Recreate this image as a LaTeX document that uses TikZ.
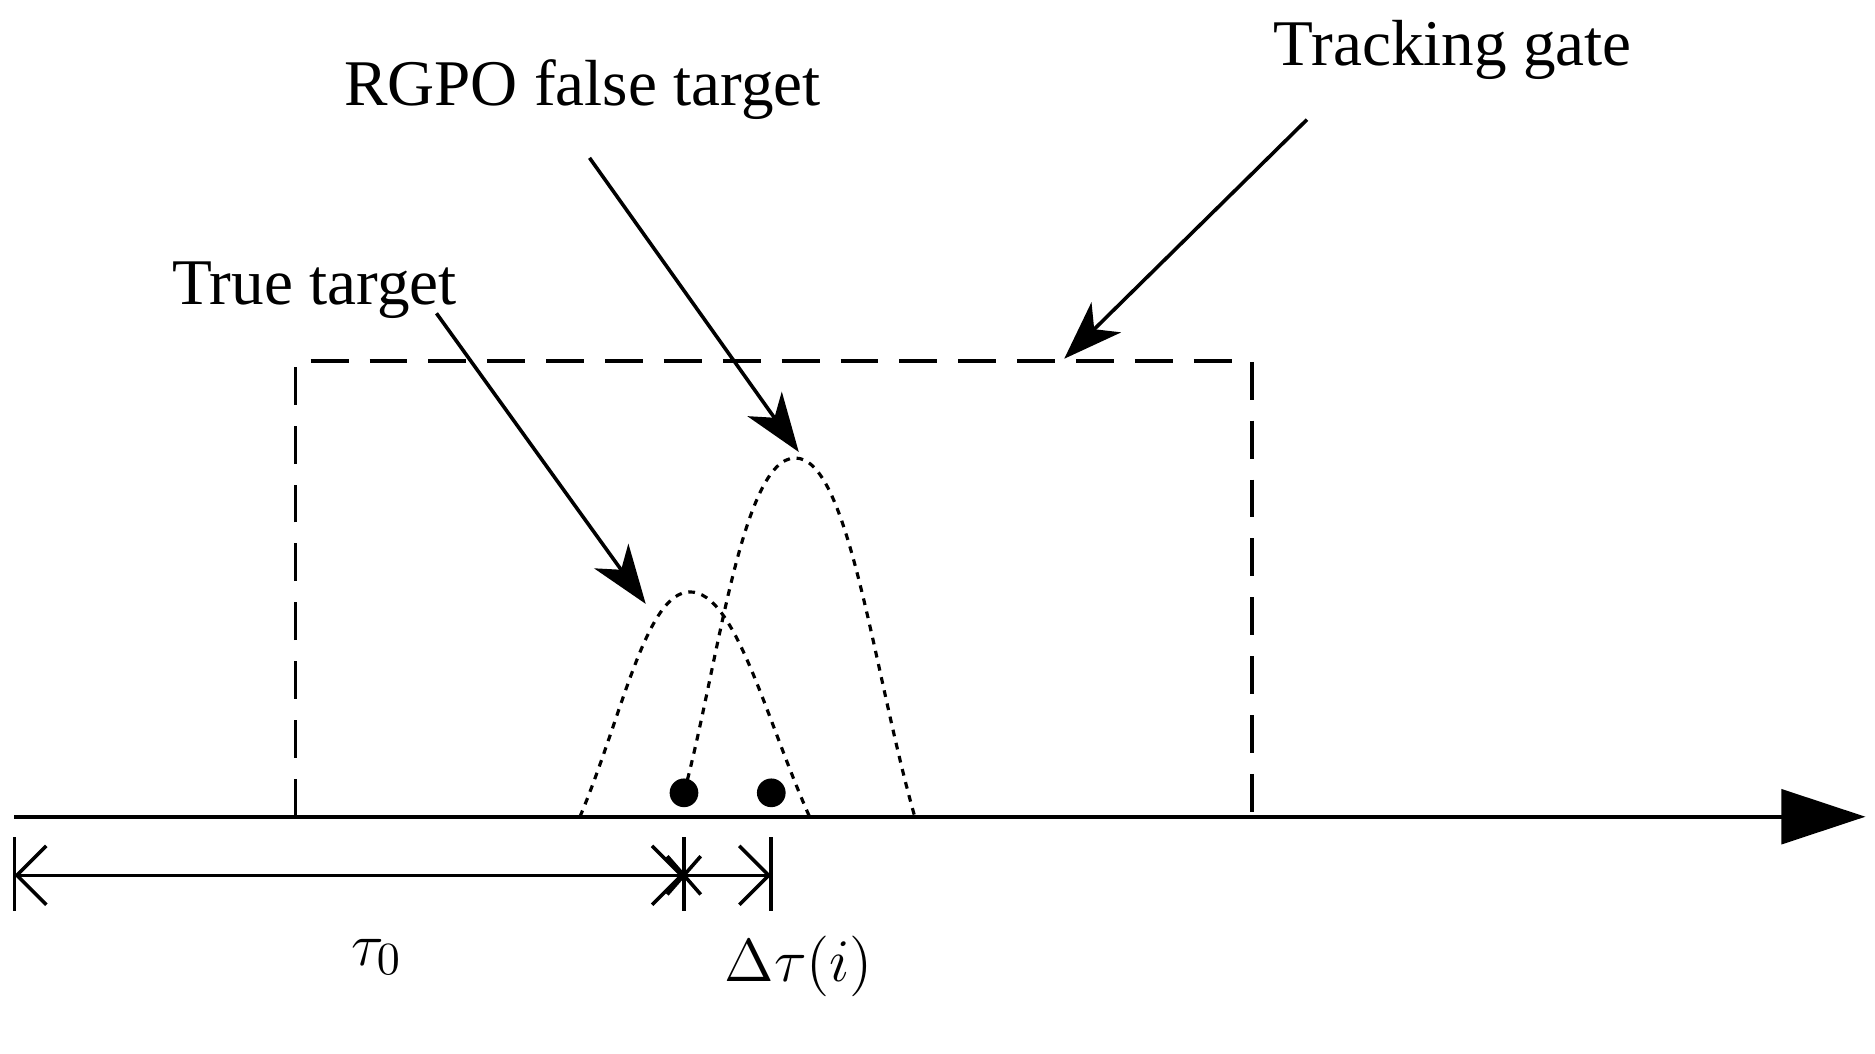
\documentclass[tikz,border=0pt]{standalone}
\usepackage{fontspec}
\setmainfont{Liberation Serif}
\usetikzlibrary{arrows.meta}
\begin{document}
\begin{tikzpicture}[x=0.01cm,y=-0.01cm,
  lbl/.style={font=\fontsize{15.5}{18}\selectfont,inner sep=0},
  gate/.style={line width=0.85pt,dash pattern=on 9pt off 5pt},
  pulse/.style={line width=0.75pt,dash pattern=on 1.6pt off 1.6pt},
  pointer/.style={line width=0.85pt,-{Stealth[length=14pt,width=10pt,inset=4pt]}},
  dim/.style={line width=0.85pt}]
\useasboundingbox (0,0) rectangle (1568,881);
% axis
\coordinate (a0) at (12,683);
\coordinate (a1) at (1560,683);
\draw[line width=0.85pt,-{Triangle[length=20pt,width=13pt]}] (a0) -- (a1);
% tracking gate
\draw[gate] (247,683) -- (247,302) -- (1047,302) -- (1047,683) -- cycle;
% pulses
\draw[pulse] (485,683) .. controls (520,600) and (540,495) .. (577,495)
  .. controls (615,495) and (640,600) .. (677,683);
\draw[pulse] (572,663) .. controls (600,560) and (620,383) .. (665,383)
  .. controls (710,383) and (730,560) .. (765,683);
\fill (572,663) circle (12);
\fill (645,663) circle (12);
% dimension
\draw[dim] (12,700) -- (12,762);
\draw[dim] (572,700) -- (572,762);
\draw[dim] (645,700) -- (645,762);
\draw[dim] (558,716) -- (586,748) (558,748) -- (586,716);
\draw[dim,{Straight Barb[length=7pt]}-{Straight Barb[length=7pt]}] (12,732) -- (572,732);
\draw[dim,-{Straight Barb[length=7pt]}] (572,732) -- (645,732);
\node[lbl] (tau) at (315,800) {$\tau_{0}$};
\node[lbl] (dtau) at (668,808) {$\Delta\tau(i)$};
% labels
\node[lbl] (tt) at (263,243) {True target};
\node[lbl] (rg) at (487,75) {RGPO false target};
\node[lbl] (tg) at (1215,42) {Tracking gate};
\coordinate (p1) at (540,505);
\coordinate (p2) at (668,378);
\coordinate (p3) at (890,300);
\draw[pointer] (365,262) -- (p1);
\draw[pointer] (493,132) -- (p2);
\draw[pointer] (1093,100) -- (p3);
\end{tikzpicture}
\end{document}
